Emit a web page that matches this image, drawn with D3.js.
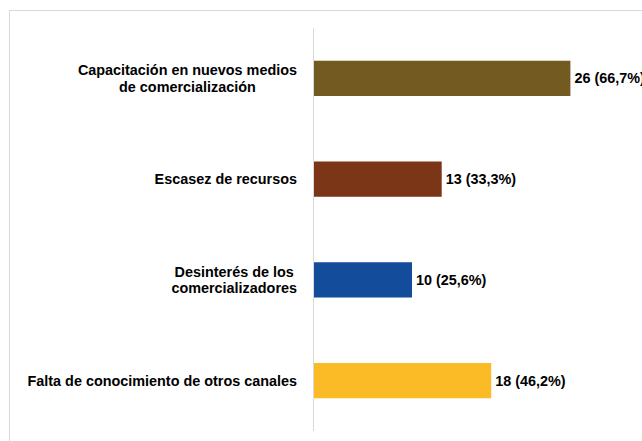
<!DOCTYPE html>
<html lang="es">
<head>
    <meta charset="UTF-8">
    <title>Problemas de comercialización</title>
    <script src="https://d3js.org/d3.v7.min.js"></script>
    <style>
        body { margin: 0; background: #fff; }
        svg { display: block; }
        .cat-label, .val-label {
            font-family: "Liberation Sans", Arial, sans-serif;
            font-weight: bold;
            font-size: 14.4px;
            fill: #000;
        }
    </style>
</head>
<body>
    <svg id="chart"></svg>

    <script>
        // Data
        const categories = [
            ["Capacitación en nuevos medios", "de comercialización"],
            ["Escasez de recursos"],
            ["Desinterés de los", "comercializadores"],
            ["Falta de conocimiento de otros canales"]
        ];
        const counts = [26, 13, 10, 18];
        const percents = ["66,7%", "33,3%", "25,6%", "46,2%"];
        const colors = ["#725a21", "#7b3517", "#124c9b", "#fbbb27"];

        const W = 642, H = 441;
        const svg = d3.select("#chart").attr("width", W).attr("height", H);

        // outer chart frame (runs off the right and bottom edge)
        svg.append("rect")
            .attr("x", 9.5).attr("y", 10.5)
            .attr("width", 700).attr("height", 500)
            .attr("fill", "none")
            .attr("stroke", "#d9d9d9");

        const idx = d3.range(categories.length);

        const y = d3.scaleBand()
            .domain(idx)
            .range([28, 431])
            .paddingInner(0.65)
            .paddingOuter(0.325);

        const x = d3.scaleLinear()
            .domain([0, 30])
            .range([313, 610]);

        // bars
        svg.selectAll(".bar")
            .data(idx)
            .enter()
            .append("rect")
            .attr("class", "bar")
            .attr("x", x(0))
            .attr("y", i => y(i))
            .attr("width", i => x(counts[i]) - x(0))
            .attr("height", y.bandwidth())
            .attr("fill", i => colors[i]);

        // vertical category axis line
        svg.append("line")
            .attr("x1", x(0) + 0.5).attr("x2", x(0) + 0.5)
            .attr("y1", 28).attr("y2", 431)
            .attr("stroke", "#d9d9d9");

        // category labels: block right-aligned, lines centred inside it
        const labelRight = 297;
        const lineH = 16.5;
        idx.forEach(i => {
            const lines = categories[i];
            const g = svg.append("text").attr("class", "cat-label").attr("text-anchor", "middle");
            const cy = y(i) + y.bandwidth() / 2;
            const spans = lines.map((t, k) => g.append("tspan")
                .attr("y", cy + (k - (lines.length - 1) / 2) * lineH)
                .attr("dy", "0.35em")
                .text(t));
            const maxW = d3.max(spans, s => s.node().getComputedTextLength());
            spans.forEach(s => s.attr("x", labelRight - maxW / 2));
        });

        // value labels
        svg.selectAll(".val-label")
            .data(idx)
            .enter()
            .append("text")
            .attr("class", "val-label")
            .attr("x", i => x(counts[i]) + 4)
            .attr("y", i => y(i) + y.bandwidth() / 2)
            .attr("dy", "0.35em")
            .text(i => `${counts[i]} (${percents[i]})`);
    </script>
</body>
</html>
